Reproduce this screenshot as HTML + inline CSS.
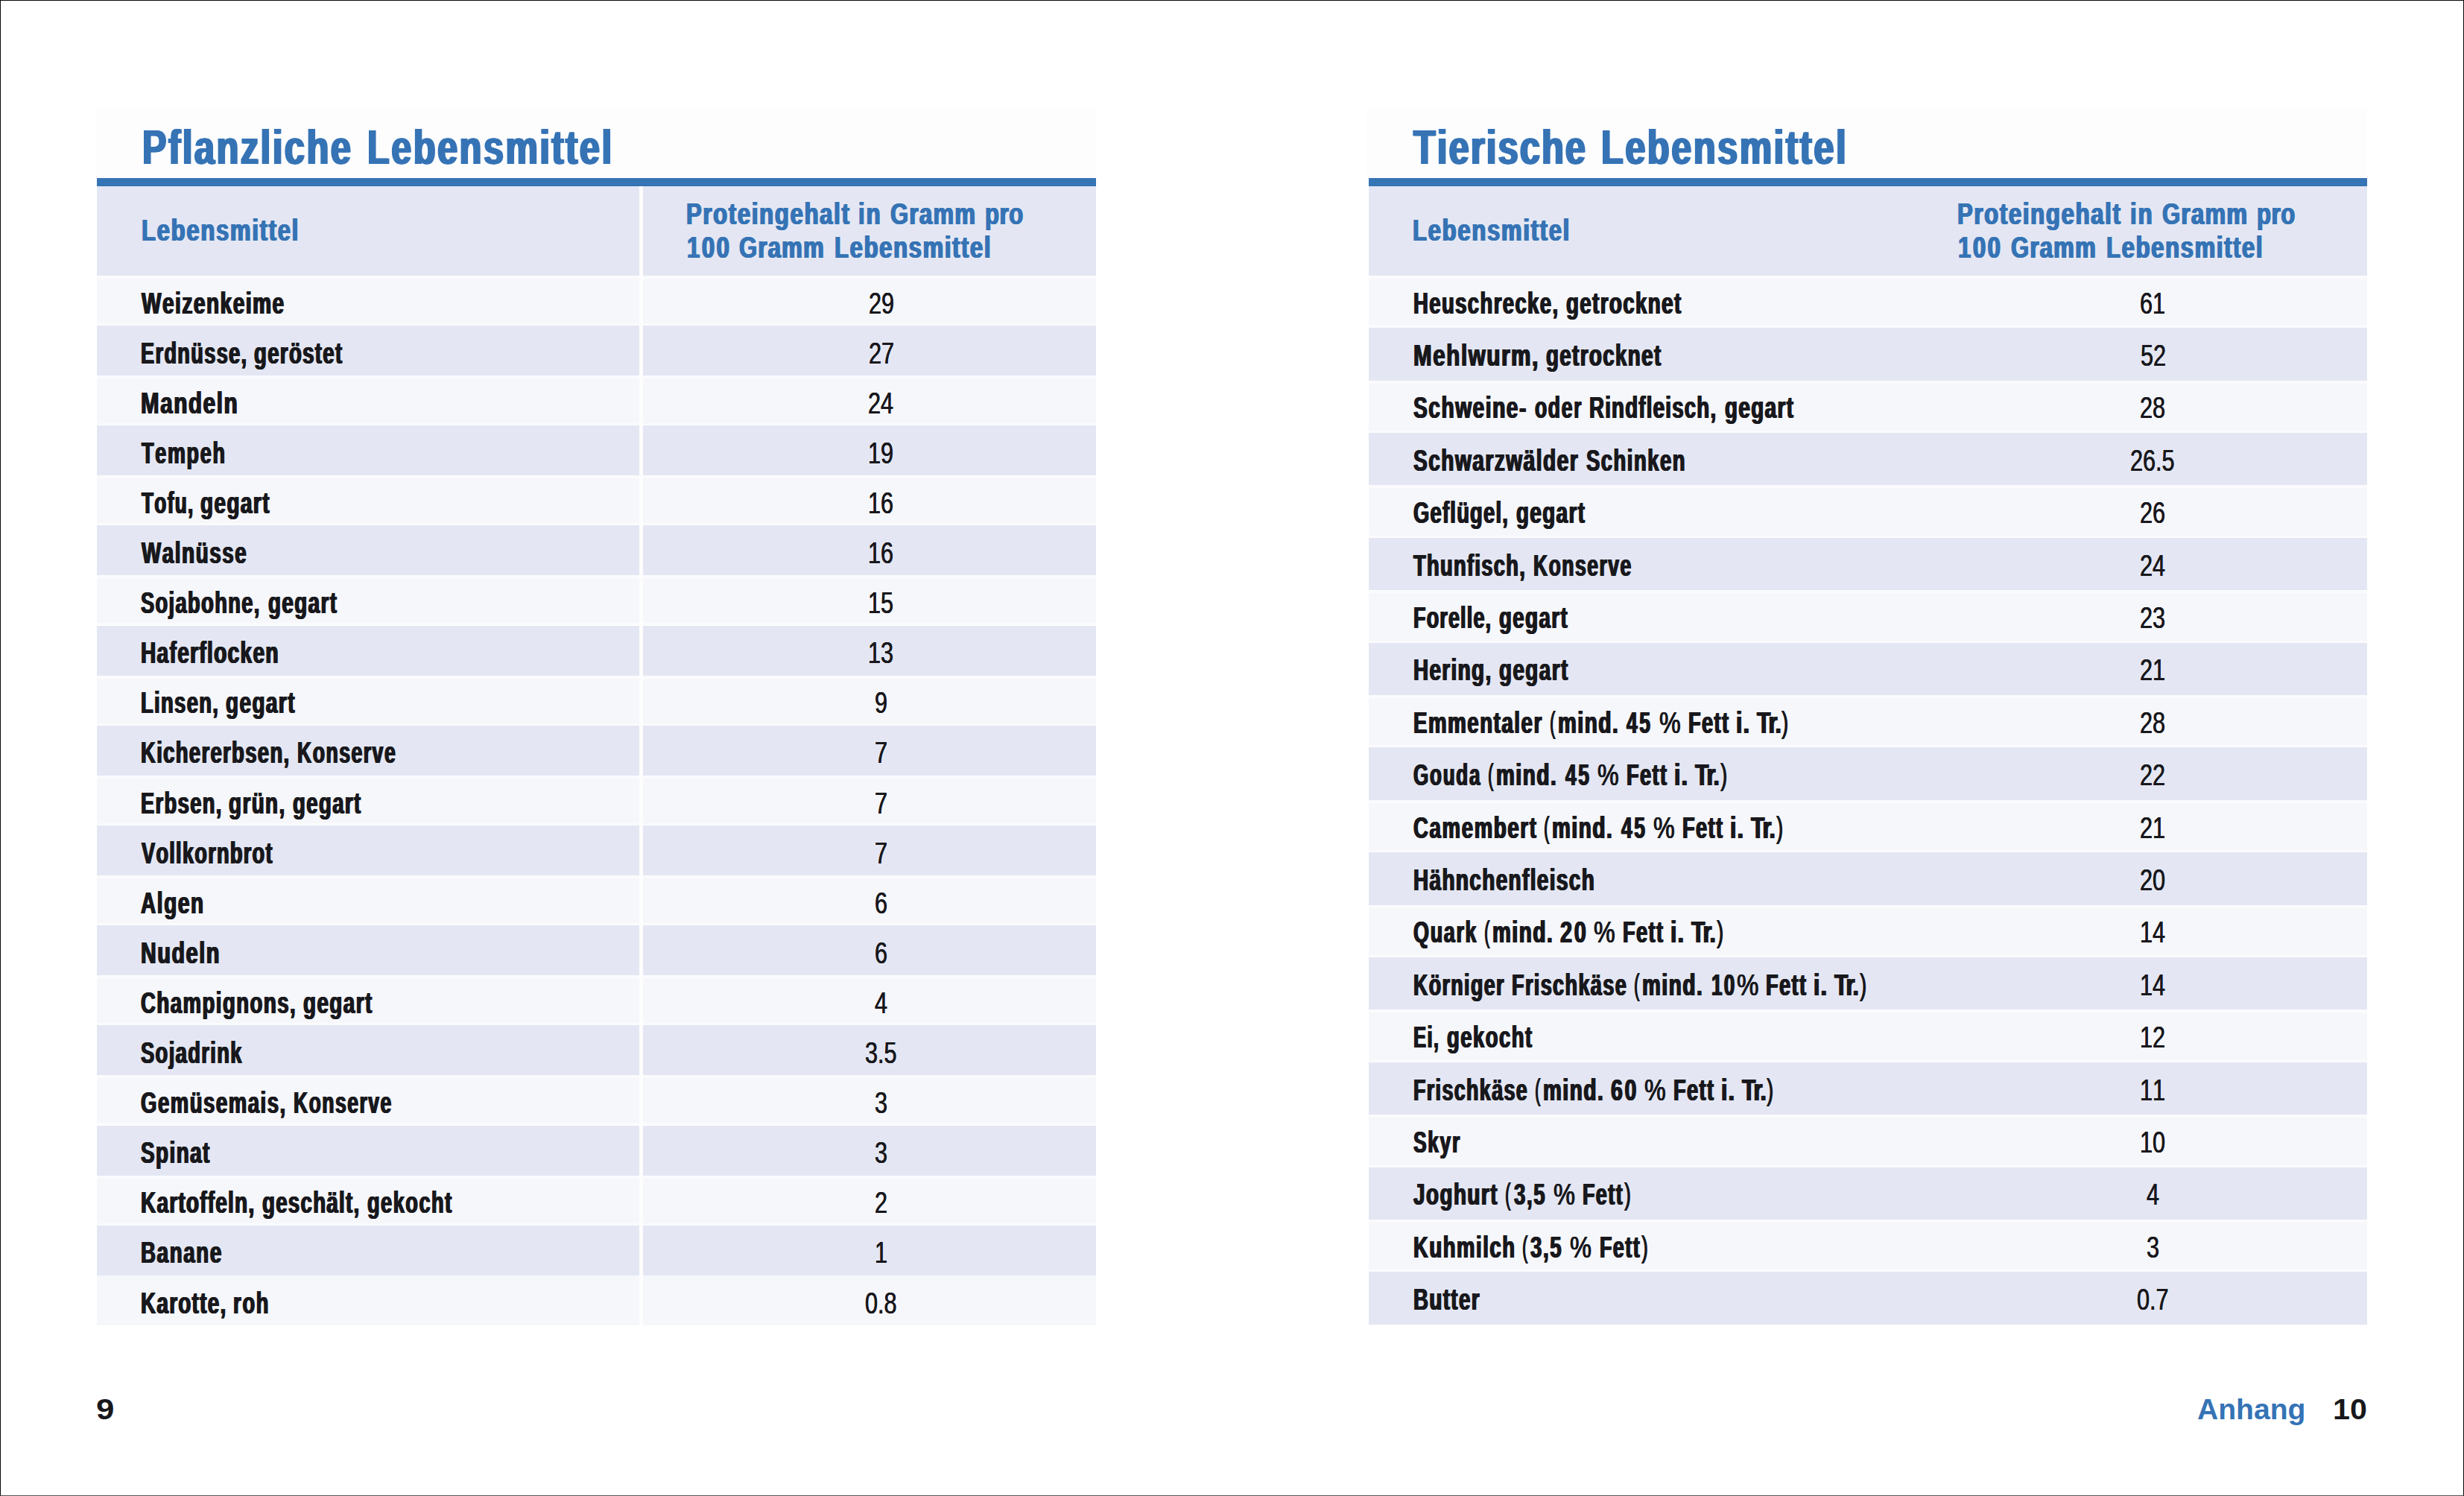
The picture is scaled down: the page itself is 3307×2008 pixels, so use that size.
<!DOCTYPE html>
<html lang="de">
<head>
<meta charset="utf-8">
<title>Proteingehalt – Pflanzliche und Tierische Lebensmittel</title>
<style>
html,body{margin:0;padding:0;background:#fff}
body{width:3307px;height:2008px;position:relative;overflow:hidden;font-family:"Liberation Sans",Arial,Helvetica,sans-serif}
.frame{position:absolute;left:0;top:0;width:3305px;height:2006px;border:1px solid #0a0a0a;border-bottom-color:#555}
.tbl{position:absolute;top:0;height:1800px;margin:0}
.haze{position:absolute;left:-2px;right:0;top:144px;height:95px;background:#fdfdfe}
.bar{position:absolute;left:0;right:0;top:239px;height:11.2px;background:#3574b5}
.hrow{position:absolute;left:0;right:0;top:250px;height:119.8px;background:#e4e7f3}
.r{position:absolute;left:0;right:0}
.dk{background:#e4e7f3}
.lt{background:linear-gradient(#fbfbfd 0,#fbfbfd 4px,#f6f7fb 4px,#f6f7fb calc(100% - 3px),#fbfbfd calc(100% - 3px))}
.lt.last{background:linear-gradient(#f6f7fb,#f6f7fb)}
.sep{position:absolute;left:728px;width:4.6px;background:#fdfdfe}
.ln{position:absolute;left:0;right:0;margin:0;white-space:nowrap;font-weight:700;color:#18181c}
.w{position:absolute;top:0;display:block;transform-origin:0 0;white-space:nowrap;font-kerning:none;font-variant-ligatures:none}
.title{font-size:64.8px;line-height:77px;height:77px;color:#3573b5}
.hd{font-size:41.4px;line-height:50px;height:50px;color:#3573b5}
.lb,.nm{font-size:40.55px;line-height:50px;height:50px}
.nm{font-weight:400}
.title .w,.hd .w,.lb .w{text-shadow:0.028em 0 0 currentColor,-0.028em 0 0 currentColor}
.lb .w.lg{font-weight:400;text-shadow:0.018em 0 0 currentColor,-0.018em 0 0 currentColor}
.nm .w{text-shadow:0.006em 0 0 currentColor,-0.006em 0 0 currentColor}
.ft{position:absolute;white-space:nowrap;font-weight:700;font-size:38.4px;line-height:46px;color:#18181c;transform-origin:0 0}
.ft.blue{color:#3573b5}
</style>
</head>
<body>
<div class="frame"></div>
<main>
<section class="tbl" style="left:130px;width:1340.5px">
<div class="haze"></div>
<h2 class="ln title" style="top:159.00px"><span class="w" style="left:61.01px;transform:scaleX(0.7500);letter-spacing:0.0535em">Pflanzliche</span> <span class="w" style="left:362.91px;transform:scaleX(0.7500);letter-spacing:0.0530em">Lebensmittel</span></h2>
<div class="bar"></div>
<div class="hrow">
<div class="ln hd" style="top:34.00px"><span class="w" style="left:59.69px;transform:scaleX(0.7500);letter-spacing:0.0553em">Lebensmittel</span></div>
<div class="ln hd" style="top:12.00px"><span class="w" style="left:790.69px;transform:scaleX(0.7500);letter-spacing:0.0551em">Proteingehalt</span> <span class="w" style="left:1022.40px;transform:scaleX(0.7500);letter-spacing:0.0664em">in</span> <span class="w" style="left:1064.90px;transform:scaleX(0.7500);letter-spacing:0.0430em">Gramm</span> <span class="w" style="left:1191.92px;transform:scaleX(0.7500);letter-spacing:0.0194em">pro</span></div>
<div class="ln hd" style="top:57.00px"><span class="w" style="left:791.61px;transform:scaleX(0.7500);letter-spacing:0.0819em">100</span> <span class="w" style="left:861.90px;transform:scaleX(0.7500);letter-spacing:0.0398em">Gramm</span> <span class="w" style="left:990.39px;transform:scaleX(0.7500);letter-spacing:0.0528em">Lebensmittel</span></div>
</div>
<div class="r lt" style="top:369.80px;height:67.10px">
<div class="ln lb" style="top:12.20px"><span class="w" style="left:60.26px;transform:scaleX(0.6904);letter-spacing:0.0548em">Weizenkeime</span></div>
<div class="ln nm" style="top:12.20px"><span class="w" style="left:1035.63px;transform:scaleX(0.7550)">29</span></div>
</div>
<div class="r dk" style="top:436.90px;height:67.10px">
<div class="ln lb" style="top:12.10px"><span class="w" style="left:58.95px;transform:scaleX(0.6677);letter-spacing:0.0517em">Erdnüsse,</span> <span class="w" style="left:210.89px;transform:scaleX(0.6795);letter-spacing:0.0490em">geröstet</span></div>
<div class="ln nm" style="top:12.10px"><span class="w" style="left:1035.67px;transform:scaleX(0.7550)">27</span></div>
</div>
<div class="r lt" style="top:504.00px;height:67.10px">
<div class="ln lb" style="top:12.00px"><span class="w" style="left:58.85px;transform:scaleX(0.7263);letter-spacing:0.0577em">Mandeln</span></div>
<div class="ln nm" style="top:12.00px"><span class="w" style="left:1035.35px;transform:scaleX(0.7550)">24</span></div>
</div>
<div class="r dk" style="top:571.10px;height:67.10px">
<div class="ln lb" style="top:11.90px"><span class="w" style="left:59.70px;transform:scaleX(0.6628);letter-spacing:0.0664em">Tempeh</span></div>
<div class="ln nm" style="top:11.90px"><span class="w" style="left:1035.23px;transform:scaleX(0.7550)">19</span></div>
</div>
<div class="r lt" style="top:638.20px;height:67.10px">
<div class="ln lb" style="top:11.80px"><span class="w" style="left:59.69px;transform:scaleX(0.6442);letter-spacing:0.0526em">Tofu,</span> <span class="w" style="left:139.14px;transform:scaleX(0.6861);letter-spacing:0.0532em">gegart</span></div>
<div class="ln nm" style="top:11.80px"><span class="w" style="left:1035.18px;transform:scaleX(0.7550)">16</span></div>
</div>
<div class="r dk" style="top:705.30px;height:67.10px">
<div class="ln lb" style="top:11.70px"><span class="w" style="left:60.00px;transform:scaleX(0.6835);letter-spacing:0.0582em">Walnüsse</span></div>
<div class="ln nm" style="top:11.70px"><span class="w" style="left:1035.18px;transform:scaleX(0.7550)">16</span></div>
</div>
<div class="r lt" style="top:772.40px;height:67.10px">
<div class="ln lb" style="top:11.60px"><span class="w" style="left:59.23px;transform:scaleX(0.6712);letter-spacing:0.0517em">Sojabohne,</span> <span class="w" style="left:230.14px;transform:scaleX(0.6824);letter-spacing:0.0532em">gegart</span></div>
<div class="ln nm" style="top:11.60px"><span class="w" style="left:1035.15px;transform:scaleX(0.7550)">15</span></div>
</div>
<div class="r dk" style="top:839.50px;height:67.10px">
<div class="ln lb" style="top:11.50px"><span class="w" style="left:58.91px;transform:scaleX(0.6919);letter-spacing:0.0473em">Haferflocken</span></div>
<div class="ln nm" style="top:11.50px"><span class="w" style="left:1035.18px;transform:scaleX(0.7550)">13</span></div>
</div>
<div class="r lt" style="top:906.60px;height:67.10px">
<div class="ln lb" style="top:11.40px"><span class="w" style="left:58.94px;transform:scaleX(0.6745);letter-spacing:0.0496em">Linsen,</span> <span class="w" style="left:173.39px;transform:scaleX(0.6861);letter-spacing:0.0532em">gegart</span></div>
<div class="ln nm" style="top:11.40px"><span class="w" style="left:1044.19px;transform:scaleX(0.7550)">9</span></div>
</div>
<div class="r dk" style="top:973.70px;height:67.10px">
<div class="ln lb" style="top:11.30px"><span class="w" style="left:58.93px;transform:scaleX(0.6781);letter-spacing:0.0478em">Kichererbsen,</span> <span class="w" style="left:268.97px;transform:scaleX(0.6561);letter-spacing:0.0561em">Konserve</span></div>
<div class="ln nm" style="top:11.30px"><span class="w" style="left:1044.17px;transform:scaleX(0.7550)">7</span></div>
</div>
<div class="r lt" style="top:1040.80px;height:67.10px">
<div class="ln lb" style="top:12.20px"><span class="w" style="left:58.94px;transform:scaleX(0.6714);letter-spacing:0.0520em">Erbsen,</span> <span class="w" style="left:177.14px;transform:scaleX(0.6836);letter-spacing:0.0532em">grün,</span> <span class="w" style="left:263.39px;transform:scaleX(0.6768);letter-spacing:0.0532em">gegart</span></div>
<div class="ln nm" style="top:12.20px"><span class="w" style="left:1044.17px;transform:scaleX(0.7550)">7</span></div>
</div>
<div class="r dk" style="top:1107.90px;height:67.10px">
<div class="ln lb" style="top:12.10px"><span class="w" style="left:59.82px;transform:scaleX(0.6695);letter-spacing:0.0473em">Vollkornbrot</span></div>
<div class="ln nm" style="top:12.10px"><span class="w" style="left:1044.17px;transform:scaleX(0.7550)">7</span></div>
</div>
<div class="r lt" style="top:1175.00px;height:67.10px">
<div class="ln lb" style="top:12.00px"><span class="w" style="left:58.84px;transform:scaleX(0.6876);letter-spacing:0.0597em">Algen</span></div>
<div class="ln nm" style="top:12.00px"><span class="w" style="left:1044.08px;transform:scaleX(0.7550)">6</span></div>
</div>
<div class="r dk" style="top:1242.10px;height:67.10px">
<div class="ln lb" style="top:11.90px"><span class="w" style="left:58.89px;transform:scaleX(0.7065);letter-spacing:0.0577em">Nudeln</span></div>
<div class="ln nm" style="top:11.90px"><span class="w" style="left:1044.08px;transform:scaleX(0.7550)">6</span></div>
</div>
<div class="r lt" style="top:1309.20px;height:67.10px">
<div class="ln lb" style="top:11.80px"><span class="w" style="left:58.89px;transform:scaleX(0.6789);letter-spacing:0.0545em">Champignons,</span> <span class="w" style="left:276.64px;transform:scaleX(0.6842);letter-spacing:0.0532em">gegart</span></div>
<div class="ln nm" style="top:11.80px"><span class="w" style="left:1044.28px;transform:scaleX(0.7550)">4</span></div>
</div>
<div class="r dk" style="top:1376.30px;height:67.10px">
<div class="ln lb" style="top:11.70px"><span class="w" style="left:59.23px;transform:scaleX(0.6742);letter-spacing:0.0498em">Sojadrink</span></div>
<div class="ln nm" style="top:11.70px"><span class="w" style="left:1031.48px;transform:scaleX(0.7550)">3.5</span></div>
</div>
<div class="r lt" style="top:1443.40px;height:67.10px">
<div class="ln lb" style="top:11.60px"><span class="w" style="left:58.89px;transform:scaleX(0.6778);letter-spacing:0.0561em">Gemüsemais,</span> <span class="w" style="left:263.97px;transform:scaleX(0.6536);letter-spacing:0.0561em">Konserve</span></div>
<div class="ln nm" style="top:11.60px"><span class="w" style="left:1044.28px;transform:scaleX(0.7550)">3</span></div>
</div>
<div class="r dk" style="top:1510.50px;height:67.10px">
<div class="ln lb" style="top:11.50px"><span class="w" style="left:59.23px;transform:scaleX(0.6853);letter-spacing:0.0534em">Spinat</span></div>
<div class="ln nm" style="top:11.50px"><span class="w" style="left:1044.28px;transform:scaleX(0.7550)">3</span></div>
</div>
<div class="r lt" style="top:1577.60px;height:67.10px">
<div class="ln lb" style="top:11.40px"><span class="w" style="left:58.91px;transform:scaleX(0.6914);letter-spacing:0.0428em">Kartoffeln,</span> <span class="w" style="left:222.14px;transform:scaleX(0.6820);letter-spacing:0.0466em">geschält,</span> <span class="w" style="left:363.40px;transform:scaleX(0.6697);letter-spacing:0.0556em">gekocht</span></div>
<div class="ln nm" style="top:11.40px"><span class="w" style="left:1044.19px;transform:scaleX(0.7550)">2</span></div>
</div>
<div class="r dk" style="top:1644.70px;height:67.10px">
<div class="ln lb" style="top:11.30px"><span class="w" style="left:58.93px;transform:scaleX(0.6805);letter-spacing:0.0620em">Banane</span></div>
<div class="ln nm" style="top:11.30px"><span class="w" style="left:1043.77px;transform:scaleX(0.7550)">1</span></div>
</div>
<div class="r lt last" style="top:1711.80px;height:67.10px">
<div class="ln lb" style="top:12.20px"><span class="w" style="left:58.92px;transform:scaleX(0.6867);letter-spacing:0.0460em">Karotte,</span> <span class="w" style="left:183.47px;transform:scaleX(0.6708);letter-spacing:0.0669em">roh</span></div>
<div class="ln nm" style="top:12.20px"><span class="w" style="left:1031.49px;transform:scaleX(0.7550)">0.8</span></div>
</div>
<div class="sep" style="top:250px;height:1528.90px"></div>
</section>
<section class="tbl" style="left:1836.7px;width:1340.4px">
<div class="haze"></div>
<h2 class="ln title" style="top:159.00px"><span class="w" style="left:60.51px;transform:scaleX(0.7500);letter-spacing:0.0452em">Tierische</span> <span class="w" style="left:311.91px;transform:scaleX(0.7500);letter-spacing:0.0539em">Lebensmittel</span></h2>
<div class="bar"></div>
<div class="hrow">
<div class="ln hd" style="top:34.00px"><span class="w" style="left:59.69px;transform:scaleX(0.7500);letter-spacing:0.0553em">Lebensmittel</span></div>
<div class="ln hd" style="top:12.00px"><span class="w" style="left:790.69px;transform:scaleX(0.7500);letter-spacing:0.0551em">Proteingehalt</span> <span class="w" style="left:1022.40px;transform:scaleX(0.7500);letter-spacing:0.0664em">in</span> <span class="w" style="left:1064.90px;transform:scaleX(0.7500);letter-spacing:0.0430em">Gramm</span> <span class="w" style="left:1191.92px;transform:scaleX(0.7500);letter-spacing:0.0194em">pro</span></div>
<div class="ln hd" style="top:57.00px"><span class="w" style="left:791.61px;transform:scaleX(0.7500);letter-spacing:0.0819em">100</span> <span class="w" style="left:861.90px;transform:scaleX(0.7500);letter-spacing:0.0398em">Gramm</span> <span class="w" style="left:990.39px;transform:scaleX(0.7500);letter-spacing:0.0528em">Lebensmittel</span></div>
</div>
<div class="r lt" style="top:369.80px;height:70.40px">
<div class="ln lb" style="top:12.20px"><span class="w" style="left:60.23px;transform:scaleX(0.6779);letter-spacing:0.0508em">Heuschrecke,</span> <span class="w" style="left:264.94px;transform:scaleX(0.6842);letter-spacing:0.0494em">getrocknet</span></div>
<div class="ln nm" style="top:12.20px"><span class="w" style="left:1035.64px;transform:scaleX(0.7550)">61</span></div>
</div>
<div class="r dk" style="top:440.20px;height:70.40px">
<div class="ln lb" style="top:11.80px"><span class="w" style="left:60.15px;transform:scaleX(0.7276);letter-spacing:0.0559em">Mehlwurm,</span> <span class="w" style="left:237.94px;transform:scaleX(0.6842);letter-spacing:0.0494em">getrocknet</span></div>
<div class="ln nm" style="top:11.80px"><span class="w" style="left:1035.83px;transform:scaleX(0.7550)">52</span></div>
</div>
<div class="r lt" style="top:510.60px;height:70.40px">
<div class="ln lb" style="top:11.40px"><span class="w" style="left:60.28px;transform:scaleX(0.6945);letter-spacing:0.0536em">Schweine-</span> <span class="w" style="left:223.01px;transform:scaleX(0.6538);letter-spacing:0.0629em">oder</span> <span class="w" style="left:296.72px;transform:scaleX(0.6819);letter-spacing:0.0442em">Rindfleisch,</span> <span class="w" style="left:477.94px;transform:scaleX(0.6824);letter-spacing:0.0532em">gegart</span></div>
<div class="ln nm" style="top:11.40px"><span class="w" style="left:1035.57px;transform:scaleX(0.7550)">28</span></div>
</div>
<div class="r dk" style="top:581.00px;height:70.40px">
<div class="ln lb" style="top:12.00px"><span class="w" style="left:60.28px;transform:scaleX(0.6928);letter-spacing:0.0524em">Schwarzwälder</span> <span class="w" style="left:292.53px;transform:scaleX(0.6764);letter-spacing:0.0548em">Schinken</span></div>
<div class="ln nm" style="top:12.00px"><span class="w" style="left:1022.78px;transform:scaleX(0.7550)">26.5</span></div>
</div>
<div class="r lt" style="top:651.40px;height:70.40px">
<div class="ln lb" style="top:11.60px"><span class="w" style="left:59.94px;transform:scaleX(0.6737);letter-spacing:0.0459em">Geflügel,</span> <span class="w" style="left:197.94px;transform:scaleX(0.6824);letter-spacing:0.0532em">gegart</span></div>
<div class="ln nm" style="top:11.60px"><span class="w" style="left:1035.58px;transform:scaleX(0.7550)">26</span></div>
</div>
<div class="r dk" style="top:721.80px;height:70.40px">
<div class="ln lb" style="top:12.20px"><span class="w" style="left:60.76px;transform:scaleX(0.6728);letter-spacing:0.0486em">Thunfisch,</span> <span class="w" style="left:221.77px;transform:scaleX(0.6536);letter-spacing:0.0561em">Konserve</span></div>
<div class="ln nm" style="top:12.20px"><span class="w" style="left:1035.35px;transform:scaleX(0.7550)">24</span></div>
</div>
<div class="r lt" style="top:792.20px;height:70.40px">
<div class="ln lb" style="top:11.80px"><span class="w" style="left:60.25px;transform:scaleX(0.6652);letter-spacing:0.0432em">Forelle,</span> <span class="w" style="left:174.94px;transform:scaleX(0.6805);letter-spacing:0.0532em">gegart</span></div>
<div class="ln nm" style="top:11.80px"><span class="w" style="left:1035.58px;transform:scaleX(0.7550)">23</span></div>
</div>
<div class="r dk" style="top:862.60px;height:70.40px">
<div class="ln lb" style="top:11.40px"><span class="w" style="left:60.22px;transform:scaleX(0.6873);letter-spacing:0.0488em">Hering,</span> <span class="w" style="left:174.94px;transform:scaleX(0.6842);letter-spacing:0.0532em">gegart</span></div>
<div class="ln nm" style="top:11.40px"><span class="w" style="left:1035.65px;transform:scaleX(0.7550)">21</span></div>
</div>
<div class="r lt" style="top:933.00px;height:70.40px">
<div class="ln lb" style="top:12.00px"><span class="w" style="left:60.22px;transform:scaleX(0.6828);letter-spacing:0.0551em">Emmentaler</span> <span class="w lg" style="left:243.19px;transform:scaleX(0.5651)">(</span><span class="w" style="left:253.89px;transform:scaleX(0.6887);letter-spacing:0.0563em">mind.</span> <span class="w" style="left:346.44px;transform:scaleX(0.6492);letter-spacing:0.0979em">45</span> <span class="w lg" style="left:390.23px;transform:scaleX(0.7942)">%</span> <span class="w" style="left:429.24px;transform:scaleX(0.6706);letter-spacing:0.0525em">Fett</span> <span class="w" style="left:493.14px;transform:scaleX(0.7400);letter-spacing:0.0402em">i.</span> <span class="w" style="left:521.30px;transform:scaleX(0.7400);letter-spacing:-0.0920em">Tr.</span><span class="w lg" style="left:554.63px;transform:scaleX(0.6797)">)</span></div>
<div class="ln nm" style="top:12.00px"><span class="w" style="left:1035.57px;transform:scaleX(0.7550)">28</span></div>
</div>
<div class="r dk" style="top:1003.40px;height:70.40px">
<div class="ln lb" style="top:11.60px"><span class="w" style="left:59.96px;transform:scaleX(0.6405);letter-spacing:0.0693em">Gouda</span> <span class="w lg" style="left:160.69px;transform:scaleX(0.5651)">(</span><span class="w" style="left:171.39px;transform:scaleX(0.6887);letter-spacing:0.0563em">mind.</span> <span class="w" style="left:263.94px;transform:scaleX(0.6492);letter-spacing:0.0979em">45</span> <span class="w lg" style="left:307.73px;transform:scaleX(0.7942)">%</span> <span class="w" style="left:346.74px;transform:scaleX(0.6706);letter-spacing:0.0525em">Fett</span> <span class="w" style="left:410.64px;transform:scaleX(0.7400);letter-spacing:0.0402em">i.</span> <span class="w" style="left:438.80px;transform:scaleX(0.7400);letter-spacing:-0.0920em">Tr.</span><span class="w lg" style="left:472.13px;transform:scaleX(0.6797)">)</span></div>
<div class="ln nm" style="top:11.60px"><span class="w" style="left:1035.67px;transform:scaleX(0.7550)">22</span></div>
</div>
<div class="r lt" style="top:1073.80px;height:70.40px">
<div class="ln lb" style="top:12.20px"><span class="w" style="left:59.94px;transform:scaleX(0.6801);letter-spacing:0.0598em">Camembert</span> <span class="w lg" style="left:235.69px;transform:scaleX(0.5651)">(</span><span class="w" style="left:246.39px;transform:scaleX(0.6887);letter-spacing:0.0563em">mind.</span> <span class="w" style="left:338.94px;transform:scaleX(0.6492);letter-spacing:0.0979em">45</span> <span class="w lg" style="left:382.73px;transform:scaleX(0.7942)">%</span> <span class="w" style="left:421.74px;transform:scaleX(0.6706);letter-spacing:0.0525em">Fett</span> <span class="w" style="left:485.64px;transform:scaleX(0.7400);letter-spacing:0.0402em">i.</span> <span class="w" style="left:513.80px;transform:scaleX(0.7400);letter-spacing:-0.0920em">Tr.</span><span class="w lg" style="left:547.13px;transform:scaleX(0.6797)">)</span></div>
<div class="ln nm" style="top:12.20px"><span class="w" style="left:1035.65px;transform:scaleX(0.7550)">21</span></div>
</div>
<div class="r dk" style="top:1144.20px;height:70.40px">
<div class="ln lb" style="top:11.80px"><span class="w" style="left:60.21px;transform:scaleX(0.6889);letter-spacing:0.0492em">Hähnchenfleisch</span></div>
<div class="ln nm" style="top:11.80px"><span class="w" style="left:1035.50px;transform:scaleX(0.7550)">20</span></div>
</div>
<div class="r lt" style="top:1214.60px;height:70.40px">
<div class="ln lb" style="top:11.40px"><span class="w" style="left:59.95px;transform:scaleX(0.6636);letter-spacing:0.0632em">Quark</span> <span class="w lg" style="left:155.69px;transform:scaleX(0.5651)">(</span><span class="w" style="left:166.39px;transform:scaleX(0.6887);letter-spacing:0.0563em">mind.</span> <span class="w" style="left:256.86px;transform:scaleX(0.7112);letter-spacing:0.0950em">20</span> <span class="w lg" style="left:302.73px;transform:scaleX(0.7942)">%</span> <span class="w" style="left:341.74px;transform:scaleX(0.6706);letter-spacing:0.0525em">Fett</span> <span class="w" style="left:405.64px;transform:scaleX(0.7400);letter-spacing:0.0402em">i.</span> <span class="w" style="left:433.80px;transform:scaleX(0.7400);letter-spacing:-0.0920em">Tr.</span><span class="w lg" style="left:467.13px;transform:scaleX(0.6797)">)</span></div>
<div class="ln nm" style="top:11.40px"><span class="w" style="left:1034.96px;transform:scaleX(0.7550)">14</span></div>
</div>
<div class="r dk" style="top:1285.00px;height:70.40px">
<div class="ln lb" style="top:12.00px"><span class="w" style="left:60.26px;transform:scaleX(0.6616);letter-spacing:0.0514em">Körniger</span> <span class="w" style="left:192.75px;transform:scaleX(0.6679);letter-spacing:0.0501em">Frischkäse</span> <span class="w lg" style="left:356.44px;transform:scaleX(0.5651)">(</span><span class="w" style="left:367.14px;transform:scaleX(0.6887);letter-spacing:0.0563em">mind.</span> <span class="w" style="left:460.39px;transform:scaleX(0.6406);letter-spacing:0.0925em">10</span><span class="w lg" style="left:493.97px;transform:scaleX(0.8159)">%</span> <span class="w" style="left:533.49px;transform:scaleX(0.6706);letter-spacing:0.0525em">Fett</span> <span class="w" style="left:597.39px;transform:scaleX(0.7400);letter-spacing:0.0402em">i.</span> <span class="w" style="left:625.55px;transform:scaleX(0.7400);letter-spacing:-0.0920em">Tr.</span><span class="w lg" style="left:658.88px;transform:scaleX(0.6797)">)</span></div>
<div class="ln nm" style="top:12.00px"><span class="w" style="left:1034.96px;transform:scaleX(0.7550)">14</span></div>
</div>
<div class="r lt" style="top:1355.40px;height:70.40px">
<div class="ln lb" style="top:11.60px"><span class="w" style="left:60.30px;transform:scaleX(0.6341);letter-spacing:0.0498em">Ei,</span> <span class="w" style="left:104.94px;transform:scaleX(0.6756);letter-spacing:0.0556em">gekocht</span></div>
<div class="ln nm" style="top:11.60px"><span class="w" style="left:1035.28px;transform:scaleX(0.7550)">12</span></div>
</div>
<div class="r dk" style="top:1425.80px;height:70.40px">
<div class="ln lb" style="top:12.20px"><span class="w" style="left:60.25px;transform:scaleX(0.6635);letter-spacing:0.0501em">Frischkäse</span> <span class="w lg" style="left:223.19px;transform:scaleX(0.5651)">(</span><span class="w" style="left:233.89px;transform:scaleX(0.6887);letter-spacing:0.0563em">mind.</span> <span class="w" style="left:325.55px;transform:scaleX(0.7021);letter-spacing:0.0948em">60</span> <span class="w lg" style="left:370.23px;transform:scaleX(0.7942)">%</span> <span class="w" style="left:409.24px;transform:scaleX(0.6706);letter-spacing:0.0525em">Fett</span> <span class="w" style="left:473.14px;transform:scaleX(0.7400);letter-spacing:0.0402em">i.</span> <span class="w" style="left:501.30px;transform:scaleX(0.7400);letter-spacing:-0.0920em">Tr.</span><span class="w lg" style="left:534.63px;transform:scaleX(0.6797)">)</span></div>
<div class="ln nm" style="top:12.20px"><span class="w" style="left:1035.25px;transform:scaleX(0.7550)">11</span></div>
</div>
<div class="r lt" style="top:1496.20px;height:70.40px">
<div class="ln lb" style="top:11.80px"><span class="w" style="left:60.28px;transform:scaleX(0.6503);letter-spacing:0.0632em">Skyr</span></div>
<div class="ln nm" style="top:11.80px"><span class="w" style="left:1035.11px;transform:scaleX(0.7550)">10</span></div>
</div>
<div class="r dk" style="top:1566.60px;height:70.40px">
<div class="ln lb" style="top:11.40px"><span class="w" style="left:59.91px;transform:scaleX(0.6851);letter-spacing:0.0544em">Joghurt</span> <span class="w lg" style="left:183.59px;transform:scaleX(0.5651)">(</span><span class="w" style="left:195.24px;transform:scaleX(0.6780);letter-spacing:0.0607em">3,5</span> <span class="w lg" style="left:248.23px;transform:scaleX(0.8029)">%</span> <span class="w" style="left:287.55px;transform:scaleX(0.6644);letter-spacing:0.0525em">Fett</span><span class="w lg" style="left:343.42px;transform:scaleX(0.6551)">)</span></div>
<div class="ln nm" style="top:11.40px"><span class="w" style="left:1044.28px;transform:scaleX(0.7550)">4</span></div>
</div>
<div class="r lt" style="top:1637.00px;height:70.40px">
<div class="ln lb" style="top:12.00px"><span class="w" style="left:60.23px;transform:scaleX(0.6782);letter-spacing:0.0557em">Kuhmilch</span> <span class="w lg" style="left:206.09px;transform:scaleX(0.5651)">(</span><span class="w" style="left:217.74px;transform:scaleX(0.6780);letter-spacing:0.0607em">3,5</span> <span class="w lg" style="left:270.73px;transform:scaleX(0.8029)">%</span> <span class="w" style="left:310.05px;transform:scaleX(0.6644);letter-spacing:0.0525em">Fett</span><span class="w lg" style="left:365.92px;transform:scaleX(0.6551)">)</span></div>
<div class="ln nm" style="top:12.00px"><span class="w" style="left:1044.28px;transform:scaleX(0.7550)">3</span></div>
</div>
<div class="r dk" style="top:1707.40px;height:70.40px">
<div class="ln lb" style="top:11.60px"><span class="w" style="left:60.22px;transform:scaleX(0.6822);letter-spacing:0.0508em">Butter</span></div>
<div class="ln nm" style="top:11.60px"><span class="w" style="left:1031.59px;transform:scaleX(0.7550)">0.7</span></div>
</div>
</section>
</main>
<footer>
<div class="ft " style="left:129.48px;top:1868.69px;transform:scaleX(1.1425)">9</div>
<div class="ft blue" style="left:2949.03px;top:1868.69px;transform:scaleX(1.0180)">Anhang</div>
<div class="ft " style="left:3130.91px;top:1868.69px;transform:scaleX(1.0718)">10</div>
</footer>
</body>
</html>
